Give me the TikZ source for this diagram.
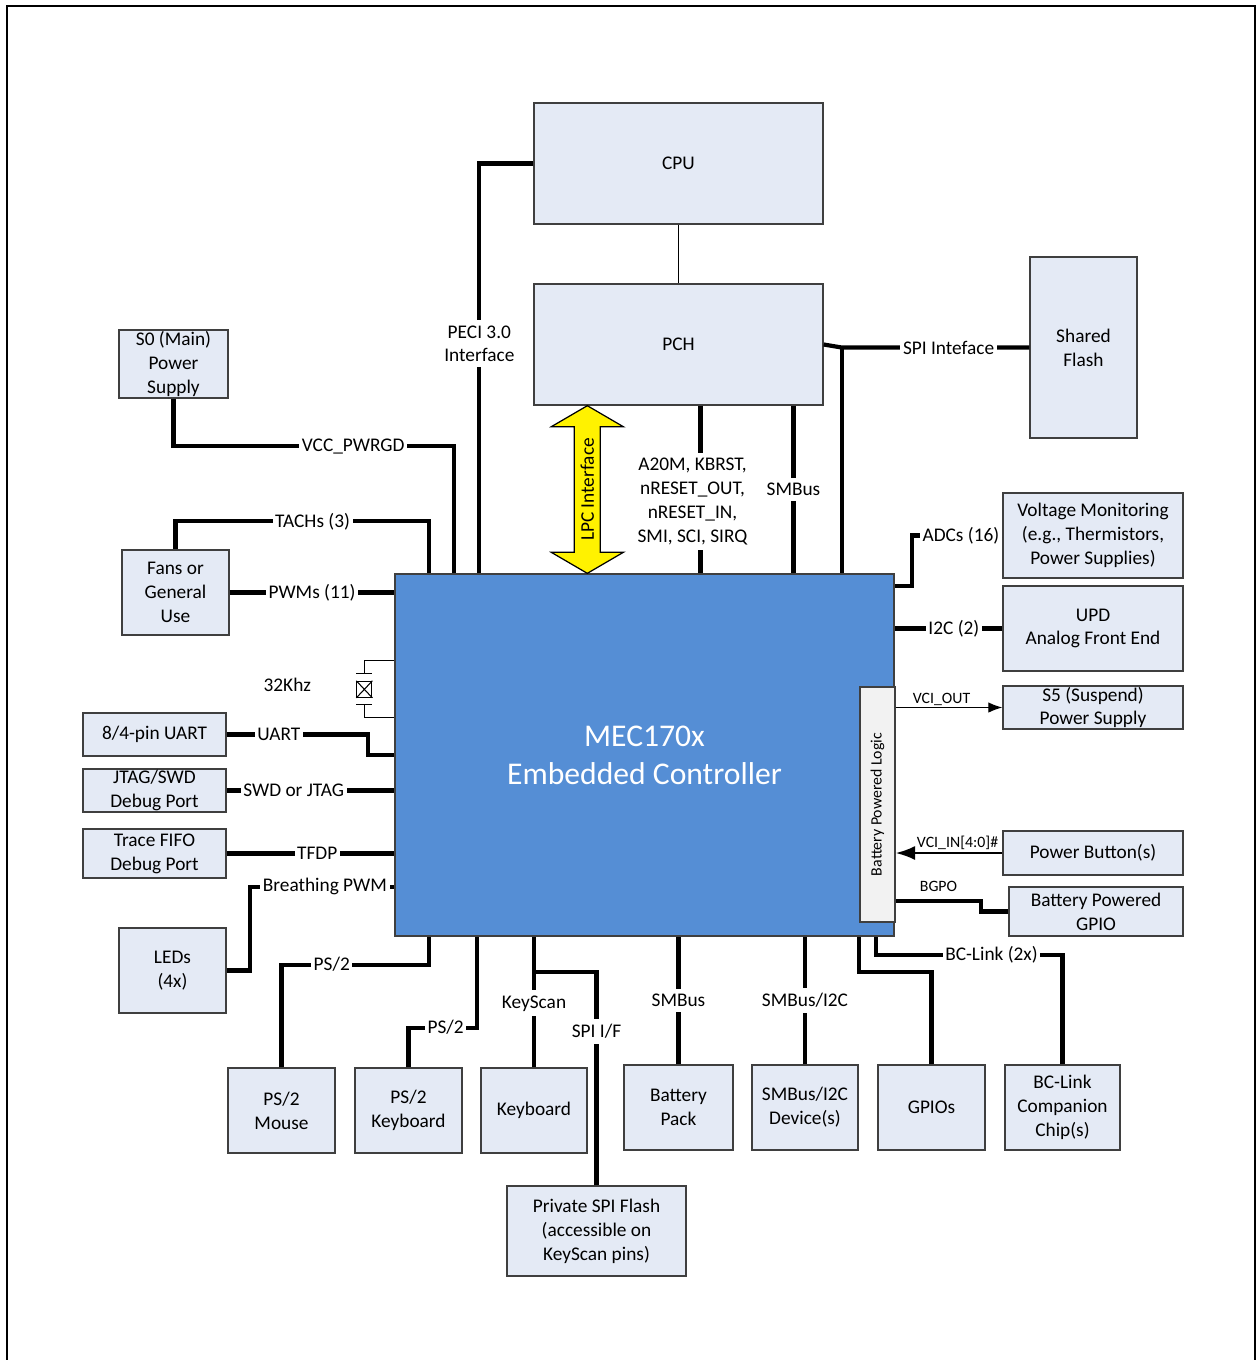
\documentclass[tikz,border=0pt]{standalone}
\usepackage{fontspec}
\setmainfont{Carlito}
\usepackage{tikz}
\definecolor{boxfill}{HTML}{E4EAF5}
\definecolor{mecblue}{HTML}{558ED5}
\definecolor{bplgray}{HTML}{F2F2F2}
\definecolor{edge}{HTML}{3F3F3F}
\usetikzlibrary{calc,arrows.meta}

\begin{document}
\begin{tikzpicture}[
    x=0.02cm, y=-0.02cm,
    font=\fontsize{11}{13.6}\selectfont,
    blk/.style={rectangle, draw=edge, fill=boxfill, line width=0.8pt,
      align=center, inner xsep=1pt, inner ysep=-4pt},
    wire/.style={line width=2.4pt},
    sig/.style={line width=0.6pt},
    lbl/.style={fill=white, inner xsep=1.5pt, inner ysep=3pt, align=center},
    sml/.style={font=\fontsize{9}{11}\selectfont, inner sep=1pt}]

  \useasboundingbox (0,0) rectangle (1258,1360);
  \draw[line width=1.1pt] (7,1360) -- (7,6) -- (1255,6) -- (1255,1360);

  \node[blk, minimum width=5.78cm, minimum height=2.42cm] at (678.5,163.5) (cpu) {CPU};
  \node[blk, minimum width=5.78cm, minimum height=2.42cm] at (678.5,344.5) (pch) {PCH};
  \node[blk, minimum width=2.14cm, minimum height=3.62cm] at (1083.5,347.5) (flash) {Shared\\Flash};
  \node[blk, minimum width=2.18cm, minimum height=1.36cm] at (173.5,364) (s0) {S0 (Main)\\Power\\Supply};
  \node[blk, minimum width=2.14cm, minimum height=1.70cm] at (175.5,592.5) (fans) {Fans or\\General\\Use};
  \node[blk, minimum width=2.86cm, minimum height=0.86cm] at (154.5,734.5) (uart) {8/4-pin UART};
  \node[blk, minimum width=2.86cm, minimum height=0.86cm] at (154.5,790.5) (jtag) {JTAG/SWD\\Debug Port};
  \node[blk, minimum width=2.86cm, minimum height=0.98cm] at (154.5,853.5) (trace) {Trace FIFO\\Debug Port};
  \node[blk, minimum width=2.14cm, minimum height=1.70cm] at (172.5,970.5) (leds) {LEDs\\(4x)};
  \node[blk, minimum width=2.14cm, minimum height=1.70cm] at (281.5,1110.5) (mouse) {PS/2\\Mouse};
  \node[blk, minimum width=2.14cm, minimum height=1.70cm] at (408.5,1110.5) (pskbd) {PS/2\\Keyboard};
  \node[blk, minimum width=2.12cm, minimum height=1.70cm] at (534,1110.5) (kbd) {Keyboard};
  \node[blk, minimum width=3.58cm, minimum height=1.80cm] at (596.5,1231) (spiflash) {Private SPI Flash\\(accessible on\\KeyScan pins)};
  \node[blk, minimum width=2.18cm, minimum height=1.70cm] at (678.5,1107.5) (batt) {Battery\\Pack};
  \node[blk, minimum width=2.12cm, minimum height=1.70cm] at (805,1107.5) (smdev) {SMBus/I2C\\Device(s)};
  \node[blk, minimum width=2.14cm, minimum height=1.70cm] at (931.5,1107.5) (gpios) {GPIOs};
  \node[blk, minimum width=2.30cm, minimum height=1.70cm] at (1062.5,1107.5) (bclink) {BC-Link\\Companion\\Chip(s)};
  \node[blk, minimum width=3.60cm, minimum height=1.70cm] at (1093,535.5) (volt) {Voltage Monitoring\\(e.g., Thermistors,\\Power Supplies)};
  \node[blk, minimum width=3.60cm, minimum height=1.70cm] at (1093,628.5) (upd) {UPD\\Analog Front End};
  \node[blk, minimum width=3.60cm, minimum height=0.86cm] at (1093,707.5) (s5) {S5 (Suspend)\\Power Supply};
  \node[blk, minimum width=3.60cm, minimum height=0.88cm] at (1093,853) (pwrbtn) {Power Button(s)};
  \node[blk, minimum width=3.48cm, minimum height=0.98cm] at (1096,911.5) (bgpio) {Battery Powered\\GPIO};

  \node[
    rectangle,
    draw=edge,
    fill=mecblue,
    line width=0.8pt,
    minimum width=9.98cm,
    minimum height=7.24cm,
    align=center,
    text=white,
    font=\fontsize{18}{21.5}\selectfont] at (644.5,755) (mec) {MEC170x\\Embedded Controller};

  \node[
    rectangle,
    draw=edge,
    fill=bplgray,
    line width=0.8pt,
    minimum width=0.70cm,
    minimum height=4.70cm,
    inner sep=0pt] at (877.5,804.5) (bpl) {};
  \node[rotate=90, sml] at (bpl.center) (bpll) {Battery Powered Logic};

  \draw[line width=0.6pt] (cpu.south) -- (pch.north);

  \coordinate (lpctop) at ($(pch.south west)+(54,0)$);
  \coordinate (lpcbot) at (lpctop |- mec.north);
  \draw[line width=0.7pt, fill=yellow] (lpctop) -- ++(36,21) -- ++(-23,0) -- ($(lpcbot)+(13,-21)$)
    -- ++(23,0) -- (lpcbot) -- ++(-36,-21) -- ++(23,0) -- ($(lpctop)+(-13,21)$) -- ++(-23,0) -- cycle;
  \node[rotate=90] at ($(lpctop)!0.5!(lpcbot)$) (lpc) {LPC Interface};

  \draw[wire] (cpu.west) -| node[lbl, pos=0.72] {PECI 3.0\\Interface} ($(mec.north west)+(85,0)$);
  \draw[wire] (s0.south) |- node[lbl, pos=0.82] {VCC\_PWRGD} ($(mec.north west)+(60,-127)$) -- ++(0,127);
  \draw[wire] (fans.north) |- node[lbl, pos=0.77] {TACHs (3)} ($(mec.north west)+(35,-52)$) -- ++(0,52);
  \draw[wire] (fans.east) -- node[lbl] {PWMs (11)} (fans.east -| mec.west);

  \node[draw, line width=0.6pt, minimum width=0.3cm, minimum height=0.32cm, inner sep=0pt]
    at ($(mec.north west)+(-30,116)$) (xtal) {};
  \draw[sig] (xtal.north west) -- (xtal.south east) (xtal.north east) -- (xtal.south west);
  \draw[sig] ($(xtal.north)+(-8,-7)$) -- ++(16,0);
  \draw[sig] ($(xtal.south)+(-8,7)$) -- ++(16,0);
  \draw[sig] ($(xtal.north)+(0,-7)$) |- ($(mec.north west)+(0,87)$);
  \draw[sig] ($(xtal.south)+(0,7)$) |- ($(mec.north west)+(0,144)$);
  \node at ($(xtal.west)+(-69,-4)$) (xlbl) {32Khz};

  \draw[wire] (uart.east) -- node[lbl, pos=0.37] {UART} ++(141,0) |- (mec.west);
  \draw[wire] (jtag.east) -- node[lbl, pos=0.4] {SWD or JTAG} (jtag.east -| mec.west);
  \draw[wire] (trace.east) -- node[lbl, pos=0.54] {TFDP} (trace.east -| mec.west);
  \draw[wire] (leds.east) -- ++(23,0) |- node[lbl, pos=0.76] {Breathing PWM} ($(mec.south west)+(0,-50)$);

  \draw[wire] (mouse.north) |- node[lbl, pos=0.67] {PS/2} ($(mec.south west)+(35,28)$) -- ++(0,-28);
  \draw[wire] (pskbd.north) |- node[lbl, pos=0.77] {PS/2} ($(mec.south west)+(83,91)$) -- ++(0,-91);
  \draw[wire] (kbd.north) -- node[lbl, pos=0.49] {KeyScan} (kbd.north |- mec.south);
  \draw[wire] (spiflash.north) |- node[lbl, pos=0.36] {SPI I/F} ($(kbd.north |- mec.south)+(0,35)$);
  \draw[wire] (batt.north) -- node[lbl] {SMBus} (batt.north |- mec.south);
  \draw[wire] (smdev.north) -- node[lbl] {SMBus/I2C} (smdev.north |- mec.south);
  \draw[wire] (gpios.north) |- ($(mec.south east)+(-36,35)$) -- ++(0,-35);
  \draw[wire] (bclink.north) |- node[lbl, pos=0.69] {BC-Link (2x)} ($(mec.south east)+(-19,18)$) -- ++(0,-18);

  \draw[wire] ($(pch.south)+(22,0)$) -- node[lbl, pos=0.57, xshift=-0.16cm]
    {A20M, KBRST,\\nRESET\_OUT,\\nRESET\_IN,\\SMI, SCI, SIRQ} ($(pch.south |- mec.north)+(22,0)$);
  \draw[wire] ($(pch.south)+(115,0)$) -- node[lbl] {SMBus} ($(pch.south |- mec.north)+(115,0)$);
  \draw[wire] (pch.east) -- ++(18,3) coordinate (spij) -- node[lbl, pos=0.57] {SPI Inteface} (spij -| flash.west);
  \draw[wire] (spij) -- (spij |- mec.north);

  \draw[wire] (volt.west) -- node[lbl, pos=0.46] {ADCs (16)} ++(-90,0) |- ($(mec.north east)+(0,13)$);
  \draw[wire] (upd.west) -- node[lbl, pos=0.45] {I2C (2)} (upd.west -| mec.east);
  \draw[sig, -{Latex[length=8pt,width=6pt]}] (s5.west -| bpl.east) -- node[sml, above, pos=0.43] {VCI\_OUT} (s5.west);
  \draw[line width=1.3pt, -{Latex[length=11pt,width=8pt]}] (pwrbtn.west) -- node[sml, above, pos=0.42] {VCI\_IN[4:0]\#} (pwrbtn.west -| bpl.east);
  \draw[wire] (bgpio.west) -- ++(-27,0) |- node[sml, above=3pt, pos=0.75] {BGPO} ($(bpl.south east)+(0,-22)$);

\end{tikzpicture}
\end{document}
